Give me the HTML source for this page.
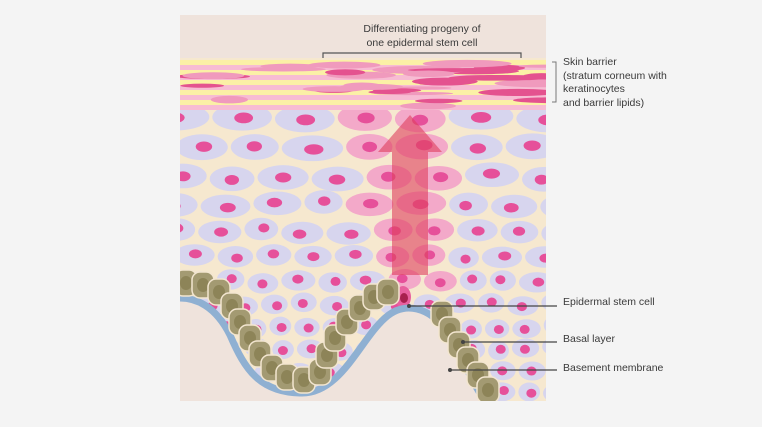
<!DOCTYPE html>
<html><head><meta charset="utf-8"><style>
html,body{margin:0;padding:0;background:#f4f4f4;width:762px;height:427px;overflow:hidden}
svg{display:block}
text{font-family:"Liberation Sans",sans-serif;font-size:10.5px;fill:#3a3a3a}
</style></head><body>
<svg id="s" width="762" height="427" viewBox="0 0 762 427" xmlns="http://www.w3.org/2000/svg">
<defs>
<clipPath id="panel"><rect x="180" y="15" width="366" height="386"/></clipPath>
<clipPath id="above"><path d="M180,58 L546,58 L546,401 L485,401 C470,380 460,350 445,330 C430,308 405,300 385,318 C360,340 340,395 300,393 C260,392 245,370 230,335 C215,305 195,298 180,298 Z"/></clipPath>
</defs>
<g clip-path="url(#panel)">
<rect x="180" y="15" width="366" height="386" fill="#efe3dc"/>
<g clip-path="url(#above)">
<rect x="180" y="58" width="366" height="343" fill="#f6e8cf"/>
<g id="cells"></g>
</g>
<g id="barrier"></g>
<path d="M180,298 C195,298 215,305 230,335 C245,370 260,392 300,393 C340,395 360,340 385,318 C405,300 430,308 445,330 C460,350 470,380 485,401" fill="none" stroke="#8fb0d2" stroke-width="7"/>
<g id="basal"></g>
<polygon points="378,152 410,115 442,152 428,152 428,275 392,275 392,152" fill="#e0405e" opacity="0.6"/>
</g>
<text x="422" y="32" text-anchor="middle">Differentiating progeny of</text>
<text x="422" y="46" text-anchor="middle">one epidermal stem cell</text>
<path d="M323,58 V53 H521 V58" fill="none" stroke="#555" stroke-width="1.2"/>
<path d="M552,62 H556 V102 H552" fill="none" stroke="#777" stroke-width="1"/>
<text x="563" y="65">Skin barrier</text>
<text x="563" y="79">(stratum corneum with</text>
<text x="563" y="92">keratinocytes</text>
<text x="563" y="106">and barrier lipids)</text>
<text x="563" y="305">Epidermal stem cell</text>
<text x="563" y="342">Basal layer</text>
<text x="563" y="371">Basement membrane</text>
<line x1="409" y1="306" x2="557" y2="306" stroke="#444" stroke-width="1.3"/>
<line x1="463" y1="342" x2="557" y2="342" stroke="#444" stroke-width="1.3"/>
<line x1="450" y1="370" x2="557" y2="370" stroke="#444" stroke-width="1.3"/>
<circle cx="409" cy="306" r="2" fill="#444"/><circle cx="463" cy="342" r="2" fill="#444"/><circle cx="450" cy="370" r="2" fill="#444"/>
</svg>
<script>
(function(){
var NS="http://www.w3.org/2000/svg";
var seed=7;function r(){seed=(seed*16807)%2147483647;return seed/2147483647;}
function el(p,t,a){var e=document.createElementNS(NS,t);for(var k in a)e.setAttribute(k,a[k]);p.appendChild(e);return e;}
var cells=document.getElementById('cells');
var y=118,row=0;
while(y<410){
 var t=Math.min(1,(y-118)/200);
 var w=62-34*t, h=30-8*t;
 var x=172+r()*w*0.6-w/2;
 while(x<560){
  var ww=w*(0.85+r()*0.3);
  var cx=x+ww/2, cy=y+(r()-0.5)*5;
  var pink = Math.abs(cx-410)<(60-25*t) && cy<300;
  el(cells,'ellipse',{cx:cx,cy:cy,rx:ww/2-1.5,ry:h/2-1.5,fill:pink?'#f3a9c9':'#d7d5ee'});
  el(cells,'ellipse',{cx:cx+(r()-0.5)*6,cy:cy+(r()-0.5)*3,rx:Math.max(5,ww*0.15),ry:Math.max(4.5,h*0.18),fill:'#e6509a'});
  x+=ww;
 }
 y+=h; row++;
}
el(cells,'ellipse',{cx:403,cy:297,rx:8,ry:11,fill:'#e8609e'});
el(cells,'ellipse',{cx:404,cy:298,rx:4,ry:5,fill:'#a8204e'});
var b=document.getElementById('barrier');
for(var i=0;i<10;i++){el(b,'rect',{x:180,y:60+i*5,width:366,height:5,fill:i%2?'#f7bcd3':'#fbf0a6'});}
for(var i=0;i<34;i++){
 var cx=180+r()*380, cy=63+r()*44;
 var rx=18+r()*32, ry=1.5+r()*2.5;
 el(b,'ellipse',{cx:cx,cy:cy,rx:rx,ry:ry,fill:r()<0.6?'#e4528f':'#f09abd'});
}
var bs=document.getElementById('basal');
var pts=[[186,283],[203,285],[219,292],[232,306],[240,322],[250,338],[260,354],[272,368],[287,377],[304,380],[320,372],[327,355],[335,338],[347,322],[360,308],[374,297],[388,292],[442,314],[450,330],[459,345],[468,360],[478,375],[488,390]];
pts.forEach(function(p){
 el(bs,'rect',{x:p[0]-11,y:p[1]-13,width:22,height:26,rx:8,fill:'#a39a72',stroke:'#f3e6d0','stroke-width':1.5});
 el(bs,'ellipse',{cx:p[0],cy:p[1],rx:6,ry:7,fill:'#8d8458'});
});
})();
</script>
</body></html>
